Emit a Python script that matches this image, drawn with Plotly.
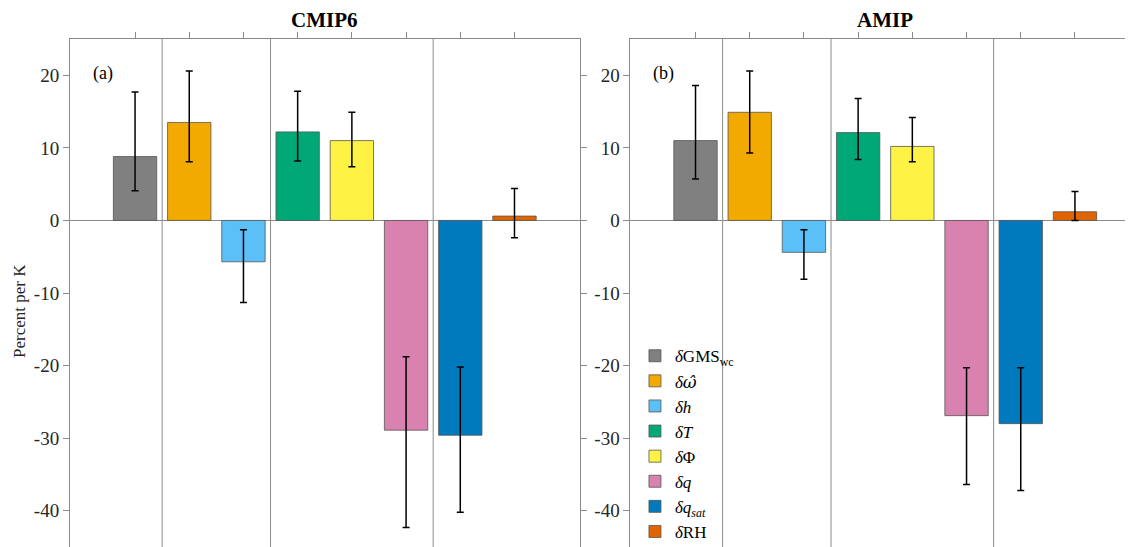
import plotly.graph_objects as go

# ---------------- data ----------------
positions = [1, 2, 3, 4, 5, 6, 7, 8]
legend_names = ["<i>δ</i>GMS<sub>wc</sub>",
                "<i>δ</i><span style='font-family:DejaVu Serif'><i>ω̂</i></span>",
                "<i>δh</i>", "<i>δT</i>",
                "<i>δ</i>Φ", "<i>δq</i>", "<i>δq<sub>sat</sub></i>", "<i>δ</i>RH"]
bar_colors = ["#808080", "#F3AA00", "#5CC0F8", "#00A878",
              "#FEF244", "#D982B0", "#0079BD", "#E16400"]

cmip6_vals = [8.8, 13.5, -5.7, 12.2, 11.0, -28.9, -29.6, 0.6]
cmip6_lo = [4.1, 8.1, -11.3, 8.2, 7.4, -42.3, -40.2, -2.4]
cmip6_hi = [17.7, 20.6, -1.3, 17.8, 14.9, -18.8, -20.2, 4.4]

amip_vals = [11.0, 14.9, -4.4, 12.1, 10.2, -26.9, -28.0, 1.2]
amip_lo = [5.7, 9.3, -8.1, 8.4, 8.1, -36.4, -37.2, 0.0]
amip_hi = [18.6, 20.6, -1.3, 16.8, 14.2, -20.3, -20.3, 4.0]

panel_titles = ["CMIP6", "AMIP"]
panel_labels = ["(a)", "(b)"]
separators = [1.5, 3.5, 6.5]
ytick_vals = [-40, -30, -20, -10, 0, 10, 20]
ytick_text = ["-40", "-30", "-20", "-10", "0", "10", "20"]

FONT = "Liberation Serif, Times New Roman, serif"
AXC = "#8a8a8a"

fig = go.Figure()

panels = [(cmip6_vals, cmip6_lo, cmip6_hi, "x", "y", False),
          (amip_vals, amip_lo, amip_hi, "x2", "y2", True)]
for vals, lo, hi, xa, ya, show in panels:
    for i in range(len(positions)):
        fig.add_trace(go.Bar(
            x=[positions[i]], y=[vals[i]], width=0.8,
            name=legend_names[i], legendgroup=str(i), showlegend=show,
            marker=dict(color=bar_colors[i], line=dict(color="#555555", width=0.8)),
            error_y=dict(type="data", symmetric=False,
                         array=[hi[i] - vals[i]], arrayminus=[vals[i] - lo[i]],
                         color="black", thickness=1.5, width=3.5),
            xaxis=xa, yaxis=ya,
        ))

xcommon = dict(side="top", showline=True, linecolor=AXC, linewidth=1,
               ticks="outside", ticklen=6, tickcolor=AXC, tickvals=positions,
               showticklabels=False, showgrid=False, zeroline=False,
               automargin=False, range=[-0.2, 9.2])
ycommon = dict(showline=True, linecolor=AXC, linewidth=1, ticks="outside",
               ticklen=6, tickcolor=AXC, tickvals=ytick_vals, ticktext=ytick_text,
               tickfont=dict(family=FONT, size=19, color="#262626"),
               showgrid=False, zeroline=True, zerolinecolor=AXC, zerolinewidth=1,
               range=[-45, 25], automargin=False)

fig.update_layout(
    xaxis=dict(domain=[0, 0.4762], anchor="y", **xcommon),
    xaxis2=dict(domain=[0.5238, 1.0], anchor="y2", **xcommon),
    yaxis=dict(domain=[0, 1], anchor="x", mirror="ticks", **ycommon),
    yaxis2=dict(domain=[0, 1], anchor="x2", mirror=False, **ycommon),
)

for xa, ya in [("x", "y"), ("x2", "y2")]:
    for s in separators:
        fig.add_shape(type="line", x0=s, x1=s, y0=0, y1=1,
                      xref=xa, yref=ya + " domain",
                      line=dict(color=AXC, width=1), layer="below")

for k, (xa, title, lab) in enumerate(zip(["x", "x2"], panel_titles, panel_labels)):
    fig.add_annotation(text="<b>%s</b>" % title, xref=xa + " domain", yref="paper",
                       x=0.5, y=1.037, xanchor="center", yanchor="middle",
                       showarrow=False, font=dict(family=FONT, size=21, color="black"))
    fig.add_annotation(text=lab, xref=xa + " domain", yref="y" + ("" if k == 0 else "2") + " domain",
                       x=0.041, y=0.933, xanchor="left", yanchor="middle",
                       showarrow=False, font=dict(family=FONT, size=18, color="black"))

fig.add_annotation(text="Percent per K", xref="paper", yref="paper",
                   x=-0.0467, y=0.4646, textangle=-90, xanchor="center", yanchor="middle",
                   showarrow=False, font=dict(family=FONT, size=17, color="#262626"))

# the page places the figure 8px from the top-left corner; margins compensate for that
fig.update_layout(
    width=1133, height=547,
    margin=dict(l=62, r=1, t=31, b=8, autoexpand=False),
    paper_bgcolor="white", plot_bgcolor="white",
    barmode="overlay",
    showlegend=True,
    legend=dict(x=0.528, y=0.411, xanchor="left", yanchor="top",
                bgcolor="rgba(0,0,0,0)", borderwidth=0,
                font=dict(family=FONT, size=17, color="black"),
                tracegroupgap=0, itemwidth=30),
    font=dict(family=FONT),
)

fig.write_html("out.html")
